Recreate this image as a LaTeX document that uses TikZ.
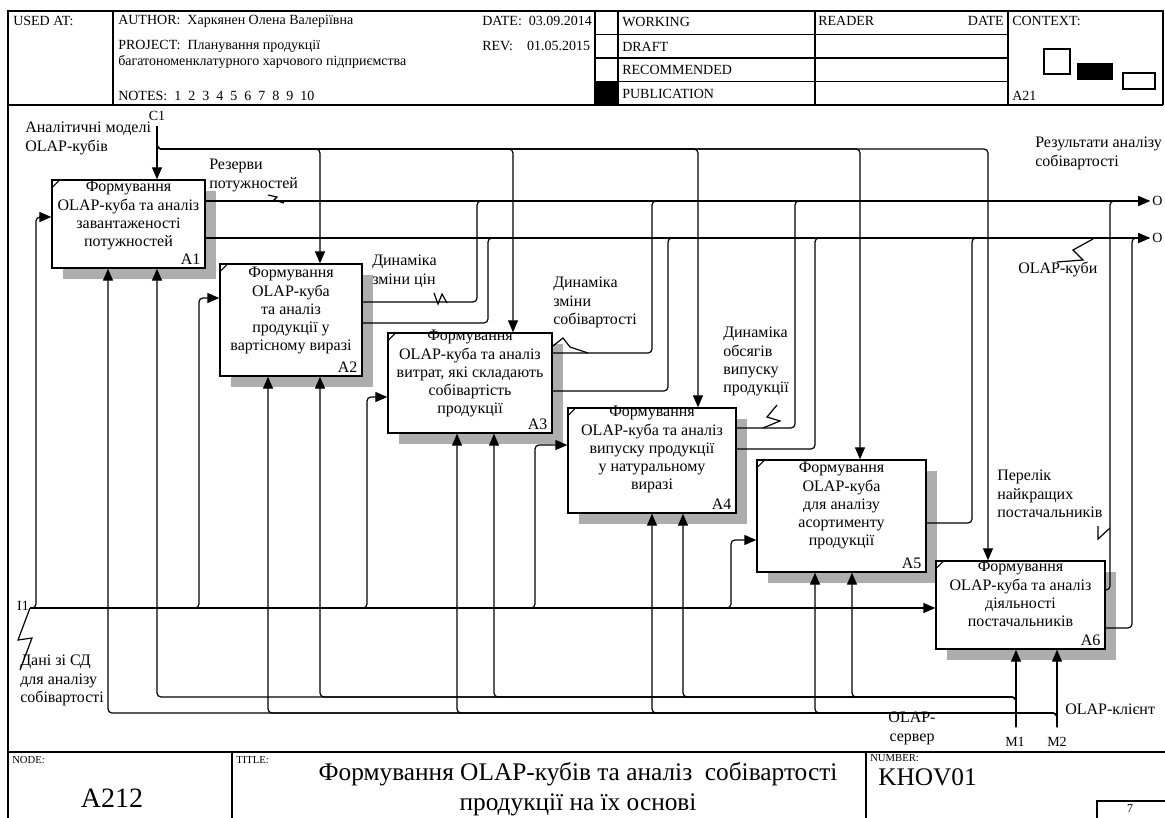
\documentclass[tikz,border=0pt]{standalone}
\usepackage{fontspec}
\setmainfont{Liberation Serif}
\usetikzlibrary{arrows.meta,calc,fit}
\tikzset{
  fr/.style={line width=1pt},
  box/.style={draw, line width=1pt, fill=white, inner sep=0pt},
  shade/.style={fill=black!32},
  btext/.style={font=\fontsize{12}{13.7}\selectfont, align=center, inner sep=0pt, anchor=north},
  bnum/.style={font=\fontsize{12}{13.7}\selectfont, inner sep=0pt, anchor=south east},
  lbl/.style={font=\fontsize{12}{13.7}\selectfont, align=left, inner sep=0pt, anchor=north west},
  hdr/.style={font=\fontsize{10.5}{12}\selectfont, inner sep=0pt, anchor=west},
  tiny/.style={font=\fontsize{8}{9}\selectfont, inner sep=0pt, anchor=west},
  port/.style={font=\fontsize{10.5}{12}\selectfont, inner sep=0pt},
  ln/.style={line width=0.9pt, rounded corners=3pt},
  arr/.style={line width=0.9pt, rounded corners=3pt, -{Triangle[length=9pt,width=7.5pt]}},
  sq/.style={line width=0.9pt},
  tick/.style={line width=0.8pt}
}
\begin{document}
\begin{tikzpicture}[x=0.75pt,y=-0.75pt]
\useasboundingbox (0,0) rectangle (1165,818);
% ---------- header ----------
\draw[fr] (8,830) -- (8,11) -- (1163,11) -- (1163,105);
\draw[fr] (8,105) -- (1163,105);
\foreach \x in {113,595,618,815,1008} \draw[fr] (\x,11) -- (\x,105);
\foreach \y in {34.5,58,81.5} \draw[fr] (595,\y) -- (1008,\y);
\fill (595,81.5) rectangle (618,105);
\node[hdr] (usedat) at (13,21) {USED AT:};
\node[hdr] (author) at (118,21) {AUTHOR:\ \ Харкянен Олена Валеріївна};
\node[hdr] (project) at (118,46) {PROJECT:\ \ Планування продукції};
\node[hdr] (project2) at (118,62) {багатономенклатурного харчового підприємства};
\node[hdr] (notes) at (118,96) {NOTES:\ \ 1\ \ 2\ \ 3\ \ 4\ \ 5\ \ 6\ \ 7\ \ 8\ \ 9\ \ 10};
\node[hdr] (date) at (482,21) {DATE:\ \ 03.09.2014};
\node[hdr] (rev) at (482,46) {REV:\ \ \ \ 01.05.2015};
\node[hdr] (working) at (622,22) {WORKING};
\node[hdr] (draft) at (622,46.5) {DRAFT};
\node[hdr] (recom) at (622,70) {RECOMMENDED};
\node[hdr] (public) at (622,94) {PUBLICATION};
\node[hdr] (reader) at (818,21) {READER};
\node[hdr, anchor=east] (rdate) at (1004,21) {DATE};
\node[hdr] (context) at (1012,21) {CONTEXT:};
\node[hdr] (ctxa) at (1012,96) {A21};
\draw[fr] (1044,49) rectangle (1070,74);
\fill (1077,63) rectangle (1113,80);
\draw[fr] (1123,73) rectangle (1155,89);
% ---------- footer ----------
\draw[fr] (8,752) -- (1165,752);
\draw[fr] (232,752) -- (232,830);
\draw[fr] (866,752) -- (866,830);
\draw[fr] (1097,830) -- (1097,801) -- (1165,801);
\node[tiny] (nodel) at (12,760) {NODE:};
\node[tiny] (titlel) at (236,760) {TITLE:};
\node[tiny] (numl) at (870,758) {NUMBER:};
\node[font=\fontsize{21}{23}\selectfont, inner sep=0pt] (nodeno) at (112,798) {A212};
\node[font=\fontsize{19}{22}\selectfont, align=center, inner sep=0pt] (title) at (578,789) {Формування OLAP-кубів та аналіз\ \ собівартості\\продукції на їх основі};
\node[font=\fontsize{19}{21}\selectfont, inner sep=0pt, anchor=west] (number) at (878,777) {KHOV01};
\node[font=\fontsize{9}{10}\selectfont, inner sep=0pt] (page) at (1130,809) {7};
% ---------- shadows ----------
\fill[shade] (63,191) rectangle (216,279);
\fill[shade] (231,275) rectangle (373,387);
\fill[shade] (399,344) rectangle (563,444);
\fill[shade] (579,419) rectangle (747,524);
\fill[shade] (768,471) rectangle (937,583);
\fill[shade] (947,572) rectangle (1116,660);
% ---------- boxes ----------
\node[box, fit={(52,180)(205,268)}] (A1) {};
\node[box, fit={(220,264)(362,376)}] (A2) {};
\node[box, fit={(388,333)(552,433)}] (A3) {};
\node[box, fit={(568,408)(736,513)}] (A4) {};
\node[box, fit={(757,460)(926,572)}] (A5) {};
\node[box, fit={(936,561)(1105,649)}] (A6) {};
\foreach \b in {A1,A2,A3,A4,A5,A6}
  \draw[tick] ($(\b.north west)+(0,9)$) -- ($(\b.north west)+(9,0)$);
\node[btext] (A1t) at (128.5,181) {Формування\\OLAP-куба та аналіз\\завантаженості\\потужностей};
\node[btext] (A2t) at (291,267) {Формування\\OLAP-куба\\та аналіз\\продукції у\\вартісному виразі};
\node[btext] (A3t) at (470,330) {Формування\\OLAP-куба та аналіз\\витрат, які складають\\собівартість\\продукції};
\node[btext] (A4t) at (652,406) {Формування\\OLAP-куба та аналіз\\випуску продукції\\у натуральному\\виразі};
\node[btext] (A5t) at (841.5,462) {Формування\\OLAP-куба\\для аналізу\\асортименту\\продукції};
\node[btext] (A6t) at (1020.5,561) {Формування\\OLAP-куба та аналіз\\діяльності\\постачальників};
\node[bnum] (A1n) at ($(A1.south east)+(-5,-4)$) {A1};
\node[bnum] (A2n) at ($(A2.south east)+(-5,-4)$) {A2};
\node[bnum] (A3n) at ($(A3.south east)+(-5,-4)$) {A3};
\node[bnum] (A4n) at ($(A4.south east)+(-5,-4)$) {A4};
\node[bnum] (A5n) at ($(A5.south east)+(-5,-4)$) {A5};
\node[bnum] (A6n) at ($(A6.south east)+(-5,-4)$) {A6};
% ---------- port labels ----------
\coordinate (C1) at (157,126);
\coordinate (I1) at (30,608);
\coordinate (M1) at (1016,727);
\coordinate (M2) at (1057,727);
\coordinate (O1) at (1150,201);
\coordinate (O2) at (1150,238);
\node[port] (C1l) at (157,116) {C1};
\node[port] (I1l) at (23,606) {I1};
\node[port] (M1l) at (1015,742) {M1};
\node[port] (M2l) at (1057,742) {M2};
\node[port, anchor=west] (O1l) at (1152,201) {O};
\node[port, anchor=west] (O2l) at (1152,238) {O};
% ---------- controls ----------
\draw[arr] (C1) -- (C1 |- A1.north);
\foreach \x/\b in {320/A2,513/A3,698/A4,860/A5,988/A6}
  \draw[arr] (C1) -- (157,149) -- (\x,149) -- (\x,149 |- \b.north);
% ---------- outputs ----------
\draw[arr] (A1.east |- O1) -- (O1);
\draw[arr] (A1.east |- O2) -- (O2);
\draw[ln] (A2.east |- 0,302) -- (477,302) -- (477,201) -- (495,201);
\draw[ln] (A2.east |- 0,323) -- (488,323) -- (488,238) -- (505,238);
\draw[ln] (A3.east |- 0,353) -- (652,353) -- (652,201) -- (670,201);
\draw[ln] (A3.east |- 0,391) -- (668,391) -- (668,238) -- (685,238);
\draw[ln] (A4.east |- 0,428) -- (795,428) -- (795,201) -- (810,201);
\draw[ln] (A4.east |- 0,449) -- (815,449) -- (815,238) -- (830,238);
\draw[ln] (A5.east |- 0,523) -- (972,523) -- (972,238) -- (985,238);
\draw[arr] (A6.east |- 0,590) -- (1110,590) -- (1110,201) -- (O1);
\draw[arr] (A6.east |- 0,628) -- (1132,628) -- (1132,238) -- (O2);
% ---------- inputs ----------
\draw[arr] (I1) -- (36,608) -- (36,217) -- (36,217 -| A1.west);
\draw[arr] (I1) -- (199,608) -- (199,298) -- (199,298 -| A2.west);
\draw[arr] (I1) -- (367,608) -- (367,397) -- (367,397 -| A3.west);
\draw[arr] (I1) -- (535,608) -- (535,445) -- (535,445 -| A4.west);
\draw[arr] (I1) -- (731,608) -- (731,540) -- (731,540 -| A5.west);
\draw[arr] (I1) -- (I1 -| A6.west);
% ---------- mechanisms ----------
\draw[arr] (M1) -- (M1 |- A6.south);
\draw[arr] (M2) -- (M2 |- A6.south);
\foreach \x/\b in {852/A5,683/A4,494/A3,320/A2,157/A1}
  \draw[arr] (M1) -- (1016,697) -- (\x,697) -- (\x,697 |- \b.south);
\foreach \x/\b in {815/A5,652/A4,457/A3,268/A2,108/A1}
  \draw[arr] (M2) -- (1057,713) -- (\x,713) -- (\x,713 |- \b.south);
% ---------- arrow labels ----------
\node[lbl] (l_models) at (25,122) {Аналітичні моделі\\OLAP-кубів};
\node[lbl] (l_rez) at (209,159) {Резерви\\потужностей};
\draw[sq] (268,195) -- (277,197) -- (274,200) -- (284,203);
\node[lbl] (l_cin) at (372,255) {Динаміка\\зміни цін};
\draw[sq] (434,293) -- (438,304) -- (442,294) -- (447,303);
\node[lbl] (l_sob) at (553,277) {Динаміка\\зміни\\собівартості};
\draw[sq] (553,346) -- (563,338) -- (570,347) -- (588,353);
\node[lbl] (l_obs) at (723,327) {Динаміка\\обсягів\\випуску\\продукції};
\draw[sq] (777,405) -- (767,417) -- (780,421) -- (763,428);
\node[lbl] (l_per) at (997,470) {Перелік\\найкращих\\постачальників};
\draw[sq] (1098,526) -- (1098,539) -- (1110,528);
\node[lbl] (l_res) at (1035,137) {Результати аналізу\\собівартості};
\node[lbl] (l_cub) at (1018,262) {OLAP-куби};
\draw[sq] (1093,239) -- (1073,250) -- (1083,260) -- (1057,262);
\node[lbl] (l_dani) at (20,655) {Дані зі СД\\для аналізу\\собівартості};
\draw[sq] (30,608) -- (18,640) -- (32,638) -- (20,670);
\node[lbl, align=center, anchor=north] (l_serv) at (912,712) {OLAP-\\сервер};
\node[lbl] (l_kl) at (1065,704) {OLAP-клієнт};
\end{tikzpicture}
\end{document}
